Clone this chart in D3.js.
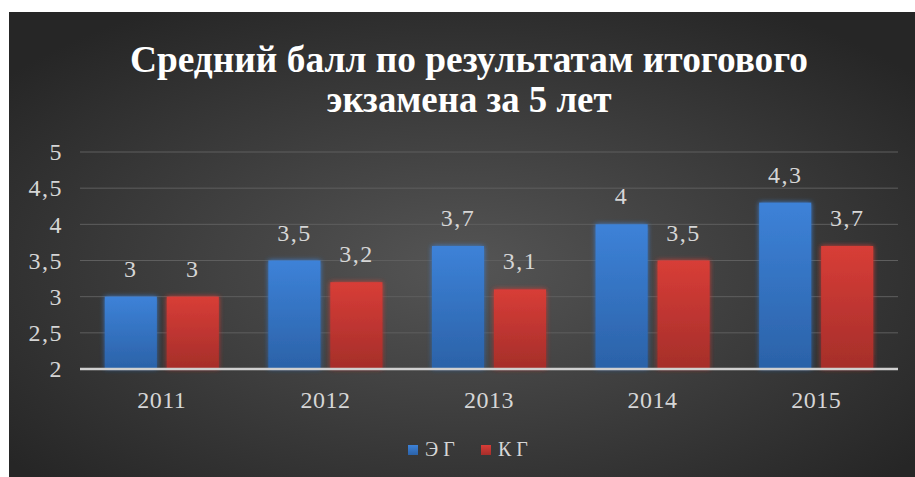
<!DOCTYPE html>
<html>
<head>
<meta charset="utf-8">
<script src="https://cdn.jsdelivr.net/npm/d3@7/dist/d3.min.js"></script>
<style>
  html, body { margin: 0; padding: 0; background: #fff; }
  svg { display: block; }
</style>
</head>
<body>
<svg id="chart"></svg>
<script>
// chart data
const years = ["2011", "2012", "2013", "2014", "2015"];
const seriesNames = ["ЭГ", "КГ"];
const egValues = [3, 3.5, 3.7, 4, 4.3];
const kgValues = [3, 3.2, 3.1, 3.5, 3.7];
const yTicks = [2, 2.5, 3, 3.5, 4, 4.5, 5];
const titleLines = ["Средний балл по результатам итогового", "экзамена за 5 лет"];

const width = 915, height = 477;
const plot = {left: 80, right: 898, top: 152, bottom: 369};

const svg = d3.select("#chart").attr("width", width).attr("height", height);
const defs = svg.append("defs");

// background radial gradient
const bg = defs.append("radialGradient").attr("id", "bg")
  .attr("cx", "50%").attr("cy", "55%").attr("r", "65%");
bg.append("stop").attr("offset", "0%").attr("stop-color", "#555555");
bg.append("stop").attr("offset", "100%").attr("stop-color", "#262626");

const barColors = [["#3d82d8", "#2b62a8"], ["#d83d37", "#a52e2a"]];
barColors.forEach((c, i) => {
  const g = defs.append("linearGradient").attr("id", "bar" + i)
    .attr("x1", 0).attr("y1", 0).attr("x2", 0).attr("y2", 1);
  g.append("stop").attr("offset", "0%").attr("stop-color", c[0]);
  g.append("stop").attr("offset", "100%").attr("stop-color", c[1]);
});

const glow = defs.append("filter").attr("id", "glow")
  .attr("x", "-20%").attr("y", "-20%").attr("width", "140%").attr("height", "140%");
glow.append("feGaussianBlur").attr("in", "SourceGraphic").attr("stdDeviation", 2.5).attr("result", "b");
const merge = glow.append("feMerge");
merge.append("feMergeNode").attr("in", "b");
merge.append("feMergeNode").attr("in", "SourceGraphic");

svg.append("rect").attr("x", 9).attr("y", 12)
  .attr("width", width - 9).attr("height", height - 12)
  .attr("fill", "url(#bg)");

// title
const title = svg.append("text")
  .attr("text-anchor", "middle")
  .attr("font-family", "'Liberation Serif', 'Times New Roman', serif")
  .attr("font-weight", "bold")
  .attr("font-size", 37)
  .attr("fill", "#ffffff");
title.selectAll("tspan").data(titleLines).join("tspan")
  .attr("x", 469)
  .attr("y", (d, i) => 72 + i * 40)
  .attr("textLength", (d, i) => i === 0 ? 678 : 285)
  .attr("lengthAdjust", "spacingAndGlyphs")
  .text(d => d);

// scales
const x = d3.scaleBand().domain(years)
  .range([plot.left, plot.right])
  .paddingInner(0.303).paddingOuter(0.1515);
const xs = d3.scaleBand().domain(seriesNames)
  .range([0, x.bandwidth()]).paddingInner(0.16);
const y = d3.scaleLinear().domain([2, 5]).range([plot.bottom, plot.top]);

const fmt = v => String(v).replace(".", ",");
const labelFont = "'Liberation Serif', 'Times New Roman', serif";
const labelColor = "#d6d6d6";

// grid lines
svg.append("g")
  .selectAll("line").data(yTicks.filter(t => t > 2)).join("line")
  .attr("x1", plot.left).attr("x2", plot.right)
  .attr("y1", d => y(d)).attr("y2", d => y(d))
  .attr("stroke", "#5e5e5e").attr("stroke-width", 1);

// y axis labels
const yAxis = svg.append("g")
  .attr("transform", `translate(${plot.left - 17},0)`)
  .call(d3.axisLeft(y).tickValues(yTicks).tickFormat(fmt).tickSize(0).tickPadding(0));
yAxis.select(".domain").remove();
yAxis.selectAll("text")
  .attr("font-family", labelFont).attr("font-size", 24)
  .attr("letter-spacing", 1.5)
  .attr("fill", labelColor);

// bars
const series = [egValues, kgValues];
const groups = svg.append("g").selectAll("g").data(series).join("g")
  .attr("fill", (d, i) => `url(#bar${i})`)
  .attr("filter", "url(#glow)");
groups.selectAll("rect")
  .data((vals, si) => vals.map((v, j) => ({v, year: years[j], s: seriesNames[si]})))
  .join("rect")
  .attr("x", d => x(d.year) + xs(d.s))
  .attr("width", xs.bandwidth())
  .attr("y", d => y(d.v))
  .attr("height", d => y(2) - y(d.v));

// data labels
svg.append("g").selectAll("g").data(series).join("g")
  .selectAll("text")
  .data((vals, si) => vals.map((v, j) => ({v, year: years[j], s: seriesNames[si]})))
  .join("text")
  .attr("x", d => x(d.year) + xs(d.s) + xs.bandwidth() / 2)
  .attr("y", d => y(d.v) - 20)
  .attr("text-anchor", "middle")
  .attr("font-family", labelFont).attr("font-size", 24)
  .attr("letter-spacing", 1.5)
  .attr("fill", labelColor)
  .text(d => fmt(d.v));

// x axis
const xAxis = svg.append("g")
  .attr("transform", `translate(0,${plot.bottom})`)
  .call(d3.axisBottom(x).tickSize(0).tickPadding(39));
xAxis.select(".domain").attr("stroke", "#d0d0d0").attr("stroke-width", 2.5)
  .attr("d", `M${plot.left},0H${plot.right}`);
xAxis.selectAll("text")
  .attr("font-family", labelFont).attr("font-size", 24)
  .attr("letter-spacing", 0.5)
  .attr("fill", labelColor)
  .attr("dy", 0);

// legend
const legend = svg.append("g").attr("transform", "translate(408,445)");
const items = legend.selectAll("g").data(seriesNames).join("g")
  .attr("transform", (d, i) => `translate(${i * 73},0)`);
items.append("rect").attr("width", 10).attr("height", 10)
  .attr("fill", (d, i) => `url(#bar${i})`);
items.append("text")
  .attr("x", 17).attr("y", 11)
  .attr("font-family", labelFont).attr("font-size", 20)
  .attr("letter-spacing", 5)
  .attr("fill", labelColor)
  .text(d => d);
</script>
</body>
</html>
